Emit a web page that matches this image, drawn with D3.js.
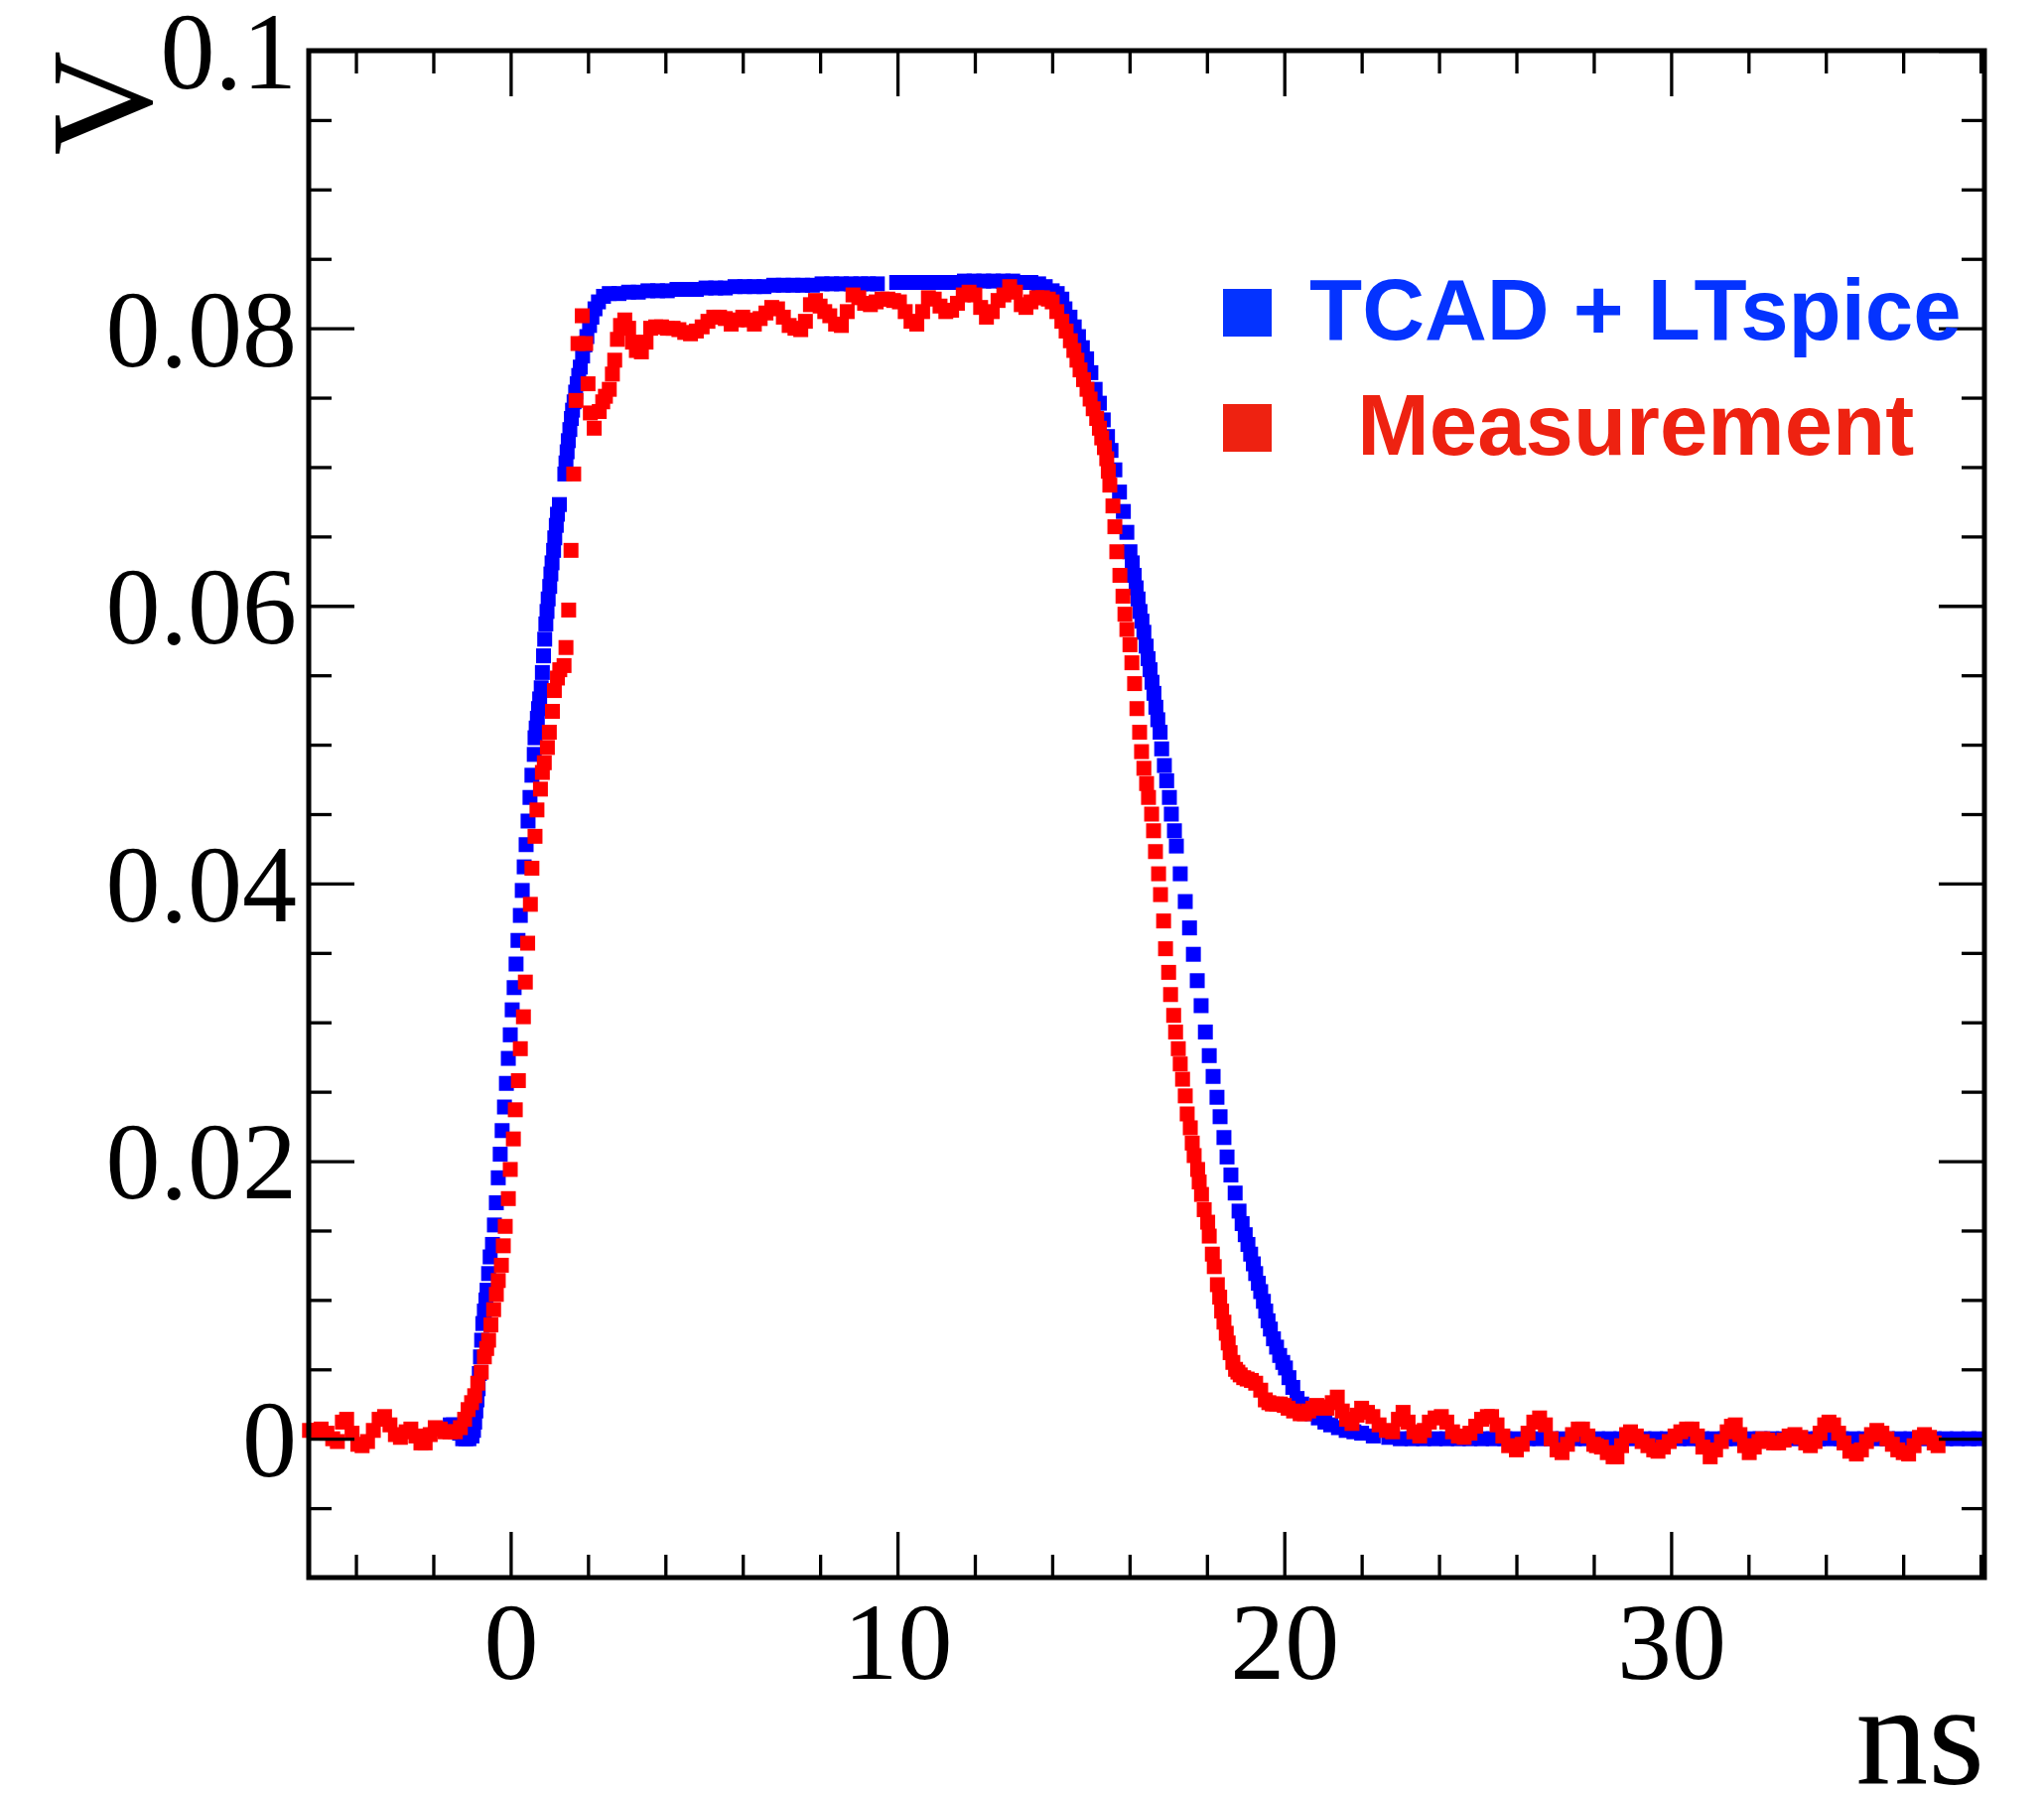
<!DOCTYPE html>
<html>
<head>
<meta charset="utf-8">
<script src="https://cdn.jsdelivr.net/npm/d3@7"></script>
<style>
  html, body { margin: 0; padding: 0; background: #fff; }
  #chart-container { width: 2059px; height: 1806px; }
</style>
</head>
<body>
<div id="chart-container"></div>
<script>
// Pulse shape: TCAD + LTspice vs measurement
const xMajorTicks = [0, 10, 20, 30];
const xTickLabels = ["0", "10", "20", "30"];
const yMajorTicks = [0, 0.02, 0.04, 0.06, 0.08, 0.1];
const yTickLabels = ["0", "0.02", "0.04", "0.06", "0.08", "0.1"];
const xTitle = "ns";
const yTitle = "V";
const seriesNames = ["TCAD + LTspice", "  Measurement"];

// [time ns, volts]
const tcadPoints = [
  [-1.56,0.0010],[-1.48,0.0010],[-1.40,0.0008],[-1.32,0.0004],[-1.24,0.0000],[-1.16,0.0000],[-1.08,0.0000],
  [-1.00,0.0002],[-0.96,0.0006],[-0.93,0.0012],[-0.90,0.0020],[-0.87,0.0028],[-0.84,0.0036],[-0.81,0.0047],
  [-0.78,0.0059],[-0.75,0.0071],[-0.72,0.0083],[-0.68,0.0092],[-0.64,0.0100],[-0.61,0.0107],[-0.57,0.0119],
  [-0.53,0.0131],[-0.47,0.0140],[-0.42,0.0154],[-0.37,0.0170],[-0.32,0.0188],[-0.27,0.0205],[-0.22,0.0222],
  [-0.16,0.0239],[-0.11,0.0256],[-0.06,0.0274],[-0.01,0.0291],[0.04,0.0309],[0.09,0.0325],[0.14,0.0342],
  [0.19,0.0359],[0.25,0.0377],[0.30,0.0395],[0.35,0.0412],[0.40,0.0428],[0.45,0.0445],[0.50,0.0462],
  [0.55,0.0478],[0.61,0.0493],[0.63,0.0505],[0.66,0.0512],[0.69,0.0519],[0.72,0.0526],[0.75,0.0533],
  [0.79,0.0541],[0.82,0.0552],[0.85,0.0564],[0.88,0.0576],[0.91,0.0587],[0.94,0.0596],[0.97,0.0605],
  [1.01,0.0614],[1.04,0.0623],[1.07,0.0631],[1.11,0.0640],[1.14,0.0649],[1.18,0.0658],[1.21,0.0666],
  [1.26,0.0673],[1.40,0.0695],[1.43,0.0703],[1.46,0.0711],[1.49,0.0719],[1.53,0.0727],[1.57,0.0735],
  [1.60,0.0741],[1.64,0.0747],[1.68,0.0754],[1.72,0.0760],[1.76,0.0766],[1.80,0.0772],[1.86,0.0780],
  [1.92,0.0788],[1.97,0.0794],[2.04,0.0802],[2.10,0.0808],[2.18,0.0814],[2.27,0.0819],[2.40,0.0823],
  [2.55,0.0825],[2.80,0.0825],[3.05,0.0826],[3.30,0.0826],[3.55,0.0827],[3.80,0.0827],[4.05,0.0827],
  [4.30,0.0828],[4.55,0.0828],[4.80,0.0828],[5.05,0.0829],[5.30,0.0829],[5.55,0.0829],[5.80,0.0830],
  [6.05,0.0830],[6.30,0.0830],[6.55,0.0830],[6.80,0.0831],[7.05,0.0831],[7.30,0.0831],[7.55,0.0831],
  [7.80,0.0831],[8.05,0.0832],[8.30,0.0832],[8.55,0.0832],[8.80,0.0832],[9.05,0.0832],[9.25,0.0832],
  [9.48,0.0832],[9.98,0.0833],[10.23,0.0833],[10.48,0.0833],[10.73,0.0833],[10.98,0.0833],[11.23,0.0833],
  [11.48,0.0833],[11.73,0.0834],[11.98,0.0834],[12.23,0.0834],[12.48,0.0834],[12.73,0.0834],[12.98,0.0834],
  [13.23,0.0833],[13.45,0.0833],[13.65,0.0832],[13.82,0.0830],[14.00,0.0827],[14.13,0.0825],[14.25,0.0821],
  [14.33,0.0814],[14.46,0.0808],[14.57,0.0801],[14.68,0.0794],[14.78,0.0786],[14.89,0.0778],[15.00,0.0768],
  [15.11,0.0756],[15.22,0.0746],[15.32,0.0734],[15.43,0.0722],[15.52,0.0712],[15.62,0.0698],[15.74,0.0682],
  [15.84,0.0668],[15.93,0.0653],[16.01,0.0639],[16.07,0.0631],[16.12,0.0622],[16.17,0.0613],[16.22,0.0605],
  [16.27,0.0596],[16.32,0.0589],[16.37,0.0581],[16.43,0.0571],[16.48,0.0562],[16.53,0.0554],[16.58,0.0545],
  [16.63,0.0537],[16.68,0.0527],[16.73,0.0518],[16.79,0.0509],[16.83,0.0497],[16.90,0.0485],[16.96,0.0474],
  [17.03,0.0462],[17.08,0.0450],[17.16,0.0438],[17.21,0.0427],[17.31,0.0407],[17.44,0.0387],[17.55,0.0368],
  [17.65,0.0349],[17.75,0.0330],[17.85,0.0312],[17.96,0.0293],[18.06,0.0276],[18.16,0.0261],[18.26,0.0246],
  [18.34,0.0232],[18.44,0.0217],[18.52,0.0203],[18.62,0.0190],[18.73,0.0177],[18.83,0.0164],[18.91,0.0155],
  [18.99,0.0147],[19.06,0.0140],[19.13,0.0133],[19.20,0.0126],[19.26,0.0119],[19.33,0.0112],[19.39,0.0106],
  [19.46,0.0099],[19.52,0.0092],[19.58,0.0085],[19.64,0.0079],[19.72,0.0072],[19.80,0.0066],[19.88,0.0060],
  [19.96,0.0055],[20.03,0.0051],[20.12,0.0044],[20.22,0.0037],[20.33,0.0029],[20.45,0.0025],[20.58,0.0021],
  [20.72,0.0018],[20.88,0.0015],[21.05,0.0012],[21.20,0.0010],[21.40,0.0008],[21.60,0.0006],[21.80,0.0005],
  [22.00,0.0004],[22.30,0.0002],[22.70,0.0001],[23.00,0.0000],[23.30,0.0000],[23.60,0.0000],[23.90,0.0000],
  [24.20,0.0000],[24.50,0.0000],[24.80,0.0000],[25.10,0.0000],[25.40,0.0000],[25.70,0.0000],[26.00,0.0000],
  [26.30,0.0000],[26.60,0.0000],[26.90,0.0000],[27.20,0.0000],[27.50,0.0000],[27.80,0.0000],[28.10,0.0000],
  [28.40,0.0000],[28.70,0.0000],[29.00,0.0000],[29.30,0.0000],[29.60,0.0000],[29.90,0.0000],[30.20,0.0000],
  [30.50,0.0000],[30.80,0.0000],[31.10,0.0000],[31.40,0.0000],[31.70,0.0000],[32.00,0.0000],[32.30,0.0000],
  [32.60,0.0000],[32.90,0.0000],[33.20,0.0000],[33.50,0.0000],[33.80,0.0000],[34.10,0.0000],[34.40,0.0000],
  [34.70,0.0000],[35.00,0.0000],[35.30,0.0000],[35.60,0.0000],[35.90,0.0000],[36.20,0.0000],[36.50,0.0000],
  [36.80,0.0000],[37.10,0.0000],[37.40,0.0000],[37.70,0.0000],[37.95,0.0000]
];

const measuredPoints = [
  [-5.20,0.0006],[-5.05,0.0006],[-4.90,0.0007],[-4.75,0.0004],[-4.60,0.0000],[-4.48,-0.0002],[-4.35,0.0012],
  [-4.24,0.0014],[-4.10,0.0004],[-3.95,-0.0004],[-3.84,-0.0005],[-3.70,-0.0002],[-3.55,0.0006],[-3.40,0.0014],
  [-3.26,0.0016],[-3.12,0.0010],[-2.98,0.0003],[-2.85,0.0001],[-2.70,0.0005],[-2.58,0.0007],[-2.45,0.0002],
  [-2.32,-0.0003],[-2.21,-0.0003],[-2.08,0.0003],[-1.95,0.0008],[-1.82,0.0007],[-1.70,0.0005],[-1.57,0.0005],
  [-1.43,0.0005],[-1.30,0.0008],[-1.19,0.0014],[-1.10,0.0021],[-1.01,0.0026],[-0.93,0.0031],[-0.85,0.0040],
  [-0.76,0.0048],[-0.68,0.0059],[-0.62,0.0065],[-0.57,0.0071],[-0.51,0.0082],[-0.44,0.0093],[-0.37,0.0104],
  [-0.32,0.0114],[-0.24,0.0125],[-0.19,0.0139],[-0.14,0.0153],[-0.06,0.0173],[-0.01,0.0194],[0.07,0.0216],
  [0.12,0.0237],[0.20,0.0258],[0.25,0.0281],[0.33,0.0304],[0.38,0.0329],[0.44,0.0357],[0.51,0.0385],
  [0.55,0.0411],[0.63,0.0434],[0.68,0.0453],[0.77,0.0468],[0.82,0.0480],[0.87,0.0487],[0.95,0.0498],
  [1.00,0.0509],[1.08,0.0524],[1.13,0.0539],[1.21,0.0548],[1.27,0.0554],[1.38,0.0557],[1.43,0.0570],
  [1.50,0.0597],[1.56,0.0640],[1.63,0.0695],[1.69,0.0748],[1.74,0.0789],[1.85,0.0809],[1.94,0.0789],
  [2.00,0.0760],[2.06,0.0739],[2.16,0.0728],[2.29,0.0740],[2.38,0.0747],[2.45,0.0751],[2.55,0.0756],
  [2.63,0.0767],[2.69,0.0777],[2.76,0.0792],[2.84,0.0802],[2.95,0.0806],[3.05,0.0800],[3.15,0.0790],
  [3.25,0.0784],[3.38,0.0783],[3.50,0.0790],[3.62,0.0800],[3.75,0.0801],[3.90,0.0801],[4.05,0.0800],
  [4.20,0.0800],[4.35,0.0799],[4.50,0.0797],[4.65,0.0796],[4.80,0.0798],[4.95,0.0801],[5.10,0.0805],
  [5.25,0.0808],[5.40,0.0808],[5.55,0.0807],[5.70,0.0803],[5.85,0.0806],[6.00,0.0808],[6.15,0.0806],
  [6.30,0.0803],[6.45,0.0807],[6.60,0.0811],[6.75,0.0815],[6.90,0.0814],[7.05,0.0808],[7.20,0.0802],
  [7.35,0.0800],[7.50,0.0799],[7.62,0.0805],[7.75,0.0817],[7.88,0.0820],[8.00,0.0816],[8.12,0.0812],
  [8.25,0.0809],[8.40,0.0803],[8.55,0.0802],[8.70,0.0812],[8.85,0.0824],[9.00,0.0822],[9.15,0.0818],
  [9.30,0.0817],[9.45,0.0819],[9.60,0.0821],[9.75,0.0821],[9.90,0.0820],[10.05,0.0819],[10.20,0.0812],
  [10.35,0.0805],[10.50,0.0803],[10.65,0.0812],[10.80,0.0822],[10.95,0.0821],[11.10,0.0816],[11.25,0.0812],
  [11.40,0.0813],[11.55,0.0818],[11.70,0.0824],[11.85,0.0826],[12.00,0.0824],[12.15,0.0815],[12.30,0.0808],
  [12.45,0.0812],[12.60,0.0820],[12.75,0.0824],[12.90,0.0830],[13.05,0.0826],[13.20,0.0817],[13.32,0.0815],
  [13.45,0.0819],[13.60,0.0822],[13.75,0.0822],[13.90,0.0821],[14.00,0.0819],[14.12,0.0812],[14.25,0.0805],
  [14.36,0.0798],[14.47,0.0791],[14.56,0.0784],[14.64,0.0777],[14.72,0.0770],[14.81,0.0763],[14.90,0.0756],
  [14.98,0.0749],[15.06,0.0742],[15.15,0.0735],[15.22,0.0728],[15.28,0.0721],[15.35,0.0714],[15.41,0.0706],
  [15.45,0.0697],[15.49,0.0687],[15.57,0.0672],[15.62,0.0657],[15.67,0.0639],[15.75,0.0622],[15.83,0.0607],
  [15.88,0.0594],[15.93,0.0583],[16.01,0.0572],[16.06,0.0559],[16.13,0.0544],[16.19,0.0526],[16.26,0.0509],
  [16.31,0.0495],[16.37,0.0483],[16.44,0.0472],[16.49,0.0462],[16.57,0.0450],[16.62,0.0438],[16.67,0.0423],
  [16.75,0.0407],[16.80,0.0392],[16.88,0.0373],[16.93,0.0353],[17.01,0.0336],[17.06,0.0320],[17.14,0.0305],
  [17.19,0.0293],[17.26,0.0281],[17.31,0.0270],[17.37,0.0259],[17.44,0.0247],[17.49,0.0234],[17.57,0.0224],
  [17.62,0.0213],[17.67,0.0204],[17.76,0.0194],[17.80,0.0185],[17.86,0.0176],[17.93,0.0165],[18.02,0.0156],
  [18.06,0.0146],[18.14,0.0133],[18.19,0.0124],[18.27,0.0111],[18.33,0.0102],[18.38,0.0092],[18.44,0.0084],
  [18.50,0.0076],[18.55,0.0069],[18.60,0.0062],[18.67,0.0055],[18.74,0.0050],[18.80,0.0048],[18.86,0.0046],
  [18.95,0.0044],[19.04,0.0043],[19.15,0.0042],[19.26,0.0040],[19.39,0.0035],[19.51,0.0028],[19.60,0.0026],
  [19.69,0.0025],[19.80,0.0025],[19.90,0.0025],[20.00,0.0024],[20.10,0.0022],[20.24,0.0020],[20.41,0.0018],
  [20.52,0.0018],[20.63,0.0020],[20.74,0.0022],[20.84,0.0024],[20.97,0.0023],[21.10,0.0022],[21.24,0.0026],
  [21.37,0.0030],[21.50,0.0020],[21.61,0.0014],[21.75,0.0011],[21.88,0.0017],[22.00,0.0022],[22.15,0.0019],
  [22.29,0.0016],[22.45,0.0010],[22.64,0.0006],[22.80,0.0005],[22.95,0.0014],[23.07,0.0019],[23.20,0.0012],
  [23.35,0.0005],[23.50,0.0002],[23.62,0.0006],[23.75,0.0012],[23.90,0.0015],[24.06,0.0016],[24.20,0.0012],
  [24.35,0.0005],[24.50,0.0002],[24.65,0.0001],[24.80,0.0004],[24.95,0.0009],[25.10,0.0014],[25.25,0.0016],
  [25.36,0.0016],[25.50,0.0010],[25.65,0.0002],[25.80,-0.0005],[26.00,-0.0008],[26.15,-0.0004],[26.30,0.0004],
  [26.45,0.0012],[26.60,0.0015],[26.75,0.0010],[26.90,0.0000],[27.05,-0.0008],[27.18,-0.0010],[27.32,-0.0004],
  [27.45,0.0003],[27.60,0.0007],[27.71,0.0007],[27.85,0.0002],[28.00,-0.0004],[28.07,-0.0005],[28.20,-0.0006],
  [28.35,-0.0010],[28.50,-0.0013],[28.60,-0.0013],[28.72,-0.0005],[28.85,0.0003],[28.95,0.0005],[29.10,0.0002],
  [29.25,-0.0002],[29.40,-0.0005],[29.55,-0.0008],[29.66,-0.0009],[29.80,-0.0006],[29.95,-0.0002],[30.10,0.0002],
  [30.25,0.0005],[30.40,0.0007],[30.54,0.0007],[30.68,0.0002],[30.82,-0.0006],[31.01,-0.0013],[31.15,-0.0008],
  [31.30,-0.0002],[31.45,0.0005],[31.56,0.0009],[31.66,0.0010],[31.78,0.0003],[31.90,-0.0005],[32.02,-0.0010],
  [32.15,-0.0006],[32.27,-0.0002],[32.37,0.0000],[32.50,-0.0001],[32.65,-0.0003],[32.78,-0.0003],[32.92,-0.0001],
  [33.05,0.0002],[33.20,0.0003],[33.35,0.0001],[33.48,-0.0003],[33.60,-0.0005],[33.72,-0.0002],[33.85,0.0004],
  [33.97,0.0010],[34.08,0.0012],[34.20,0.0010],[34.33,0.0004],[34.47,-0.0003],[34.62,-0.0009],[34.79,-0.0011],
  [34.92,-0.0008],[35.05,-0.0002],[35.18,0.0003],[35.32,0.0006],[35.45,0.0004],[35.58,0.0000],[35.72,-0.0004],
  [35.86,-0.0008],[36.00,-0.0010],[36.14,-0.0011],[36.28,-0.0005],[36.42,0.0001],[36.55,0.0003],[36.68,0.0001],
  [36.80,-0.0003],[36.90,-0.0005]
];

(function() {
  const width = 2059, height = 1806;
  const frame = { left: 311, right: 1999, top: 51, bottom: 1589 };

  const svg = d3.select('#chart-container')
    .append('svg')
    .attr('width', width)
    .attr('height', height);

  const x = d3.scaleLinear().domain([-5.22, 38.1]).range([frame.left, frame.right]);
  const y = d3.scaleLinear().domain([-0.01, 0.1]).range([frame.bottom, frame.top]);

  const markerSize = 15;
  const colors = { tcad: '#0000ff', meas: '#ff0000' };

  // data markers: simulation first, measurement on top
  svg.append('g').selectAll('rect')
    .data(tcadPoints)
    .enter().append('rect')
    .attr('x', d => x(d[0]) - markerSize / 2)
    .attr('y', d => y(d[1]) - markerSize / 2)
    .attr('width', markerSize)
    .attr('height', markerSize)
    .attr('fill', colors.tcad);

  svg.append('g').selectAll('rect')
    .data(measuredPoints)
    .enter().append('rect')
    .attr('x', d => x(d[0]) - markerSize / 2)
    .attr('y', d => y(d[1]) - markerSize / 2)
    .attr('width', markerSize)
    .attr('height', markerSize)
    .attr('fill', colors.meas);

  // ticks on all four sides, pointing inward
  const majorLen = 46, minorLen = 23;
  const xMinor = d3.range(-4, 39, 2).filter(t => !xMajorTicks.includes(t));
  const yMinor = d3.range(-0.005, 0.1, 0.005).map(v => +v.toFixed(3))
    .filter(v => !yMajorTicks.some(m => Math.abs(m - v) < 1e-9));

  const tickFont = '"Liberation Serif", "Times New Roman", serif';

  function styleAxis(g) {
    g.select('.domain').remove();
    g.selectAll('.tick line').attr('stroke', '#000').attr('stroke-width', 3.3);
  }

  // bottom
  svg.append('g')
    .attr('transform', `translate(0,${frame.bottom})`)
    .call(d3.axisBottom(x).tickValues(xMajorTicks).tickSizeInner(-majorLen).tickSizeOuter(0)
      .tickPadding(24).tickFormat((d, i) => xTickLabels[i]))
    .call(styleAxis)
    .call(g => g.selectAll('text').attr('font-family', tickFont).attr('font-size', 110).attr('fill', '#000'));
  svg.append('g')
    .attr('transform', `translate(0,${frame.bottom})`)
    .call(d3.axisBottom(x).tickValues(xMinor).tickSizeInner(-minorLen).tickSizeOuter(0).tickFormat(''))
    .call(styleAxis);

  // top
  svg.append('g')
    .attr('transform', `translate(0,${frame.top})`)
    .call(d3.axisTop(x).tickValues(xMajorTicks).tickSizeInner(-majorLen).tickSizeOuter(0).tickFormat(''))
    .call(styleAxis);
  svg.append('g')
    .attr('transform', `translate(0,${frame.top})`)
    .call(d3.axisTop(x).tickValues(xMinor).tickSizeInner(-minorLen).tickSizeOuter(0).tickFormat(''))
    .call(styleAxis);

  // left
  svg.append('g')
    .attr('transform', `translate(${frame.left},0)`)
    .call(d3.axisLeft(y).tickValues(yMajorTicks).tickSizeInner(-majorLen).tickSizeOuter(0)
      .tickPadding(12).tickFormat((d, i) => yTickLabels[i]))
    .call(styleAxis)
    .call(g => g.selectAll('text').attr('font-family', tickFont).attr('font-size', 110)
      .attr('fill', '#000').attr('dy', '0.34em'));
  svg.append('g')
    .attr('transform', `translate(${frame.left},0)`)
    .call(d3.axisLeft(y).tickValues(yMinor).tickSizeInner(-minorLen).tickSizeOuter(0).tickFormat(''))
    .call(styleAxis);

  // right
  svg.append('g')
    .attr('transform', `translate(${frame.right},0)`)
    .call(d3.axisRight(y).tickValues(yMajorTicks).tickSizeInner(-majorLen).tickSizeOuter(0).tickFormat(''))
    .call(styleAxis);
  svg.append('g')
    .attr('transform', `translate(${frame.right},0)`)
    .call(d3.axisRight(y).tickValues(yMinor).tickSizeInner(-minorLen).tickSizeOuter(0).tickFormat(''))
    .call(styleAxis);

  // frame
  svg.append('rect')
    .attr('x', frame.left).attr('y', frame.top)
    .attr('width', frame.right - frame.left)
    .attr('height', frame.bottom - frame.top)
    .attr('fill', 'none').attr('stroke', '#000').attr('stroke-width', 5);

  // axis titles
  svg.append('text')
    .attr('x', frame.right).attr('y', 1797)
    .attr('text-anchor', 'end')
    .attr('font-family', tickFont).attr('font-size', 146)
    .text(xTitle);

  svg.append('text')
    .attr('transform', `translate(152,${frame.top}) rotate(-90)`)
    .attr('text-anchor', 'end')
    .attr('font-family', tickFont).attr('font-size', 146)
    .text(yTitle);

  // legend
  const legendColors = ['#0433ff', '#ee2211'];
  const legend = svg.append('g').attr('transform', 'translate(1232,291)');
  const rowGap = 116;
  const entry = legend.selectAll('g')
    .data(seriesNames)
    .enter().append('g')
    .attr('transform', (d, i) => `translate(0,${i * rowGap})`);
  entry.append('rect')
    .attr('width', 49).attr('height', 48)
    .attr('fill', (d, i) => legendColors[i]);
  entry.append('text')
    .attr('x', 87).attr('y', 51)
    .attr('xml:space', 'preserve')
    .style('white-space', 'pre')
    .attr('font-family', '"Liberation Sans", Arial, sans-serif')
    .attr('font-weight', 'bold')
    .attr('font-size', 87)
    .attr('fill', (d, i) => legendColors[i])
    .text(d => d);
})();
</script>
</body>
</html>
